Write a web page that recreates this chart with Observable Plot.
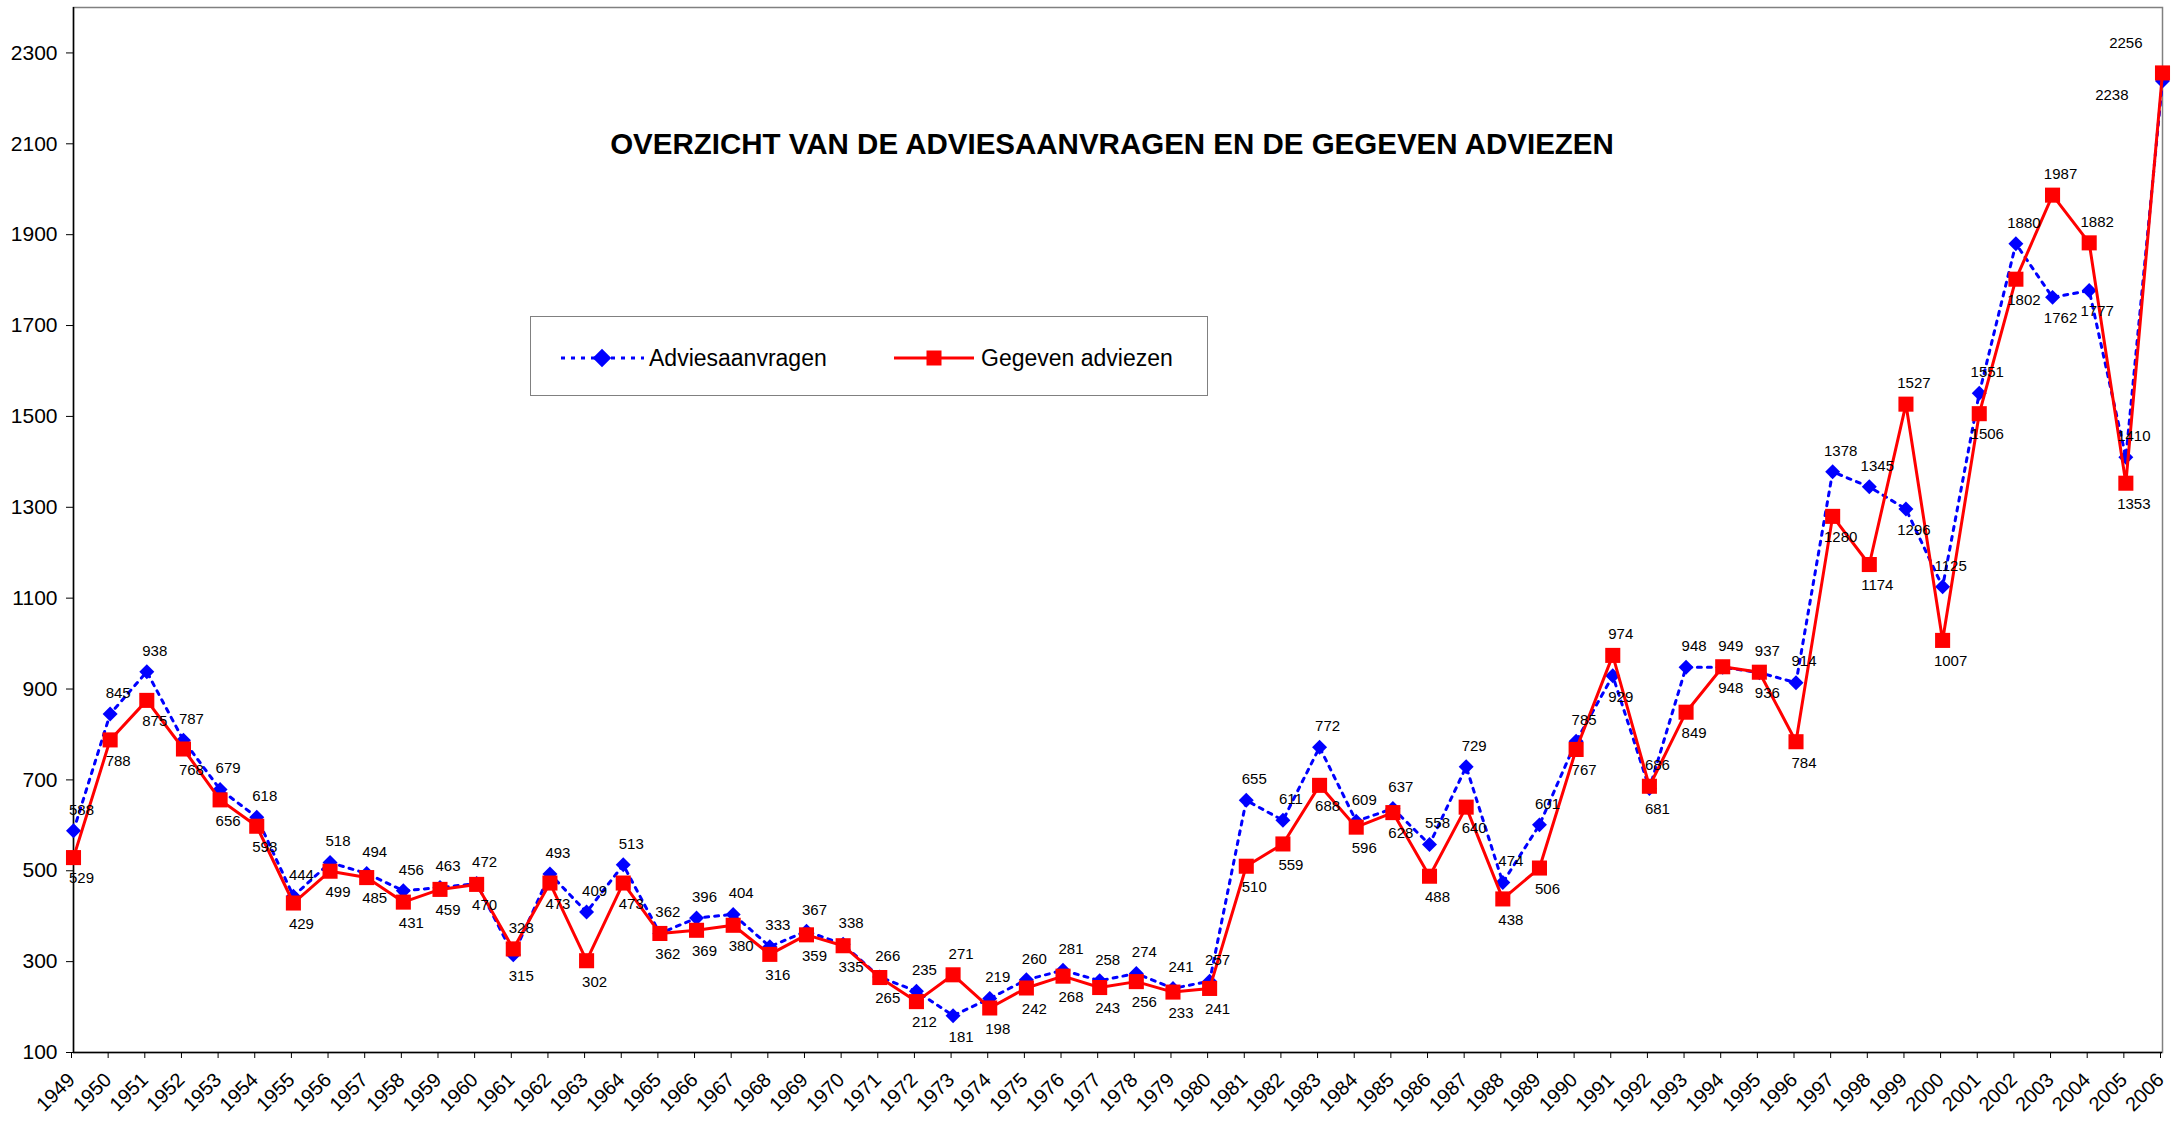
<!DOCTYPE html>
<html>
<head>
<meta charset="utf-8">
<script src="https://cdn.jsdelivr.net/npm/d3@7"></script>
<script src="https://cdn.jsdelivr.net/npm/@observablehq/plot@0.6"></script>
<style>
  body { margin: 0; background: #fff; }
  #wrap { position: relative; width: 2179px; height: 1122px; font-family: "Liberation Sans", Arial, sans-serif; }
  #title { position: absolute; left: 0; width: 2224px; top: 128px; text-align: center; font-weight: bold; font-size: 29.5px; line-height: 32px; color: #000; }
  #legend { position: absolute; left: 530px; top: 316px; width: 678px; height: 80px; box-sizing: border-box; border: 1.5px solid #808080; background: #fff; }
  #legend svg { position: absolute; left: 0; top: 0; }
</style>
</head>
<body>
<div id="wrap">
  <div id="chart"></div>
  <div id="title">OVERZICHT VAN DE ADVIESAANVRAGEN EN DE GEGEVEN ADVIEZEN</div>
  <div id="legend"></div>
</div>
<script>
const years = [1949,1950,1951,1952,1953,1954,1955,1956,1957,1958,1959,1960,1961,1962,1963,1964,1965,1966,1967,1968,1969,1970,1971,1972,1973,1974,1975,1976,1977,1978,1979,1980,1981,1982,1983,1984,1985,1986,1987,1988,1989,1990,1991,1992,1993,1994,1995,1996,1997,1998,1999,2000,2001,2002,2003,2004,2005,2006];
const adviesaanvragen = [588,845,938,787,679,618,444,518,494,456,463,472,315,493,409,513,362,396,404,333,367,338,266,235,181,219,260,281,258,274,241,257,655,611,772,609,637,558,729,474,601,785,929,681,948,948,936,914,1378,1345,1296,1125,1551,1880,1762,1777,1410,2238];
const gegevenAdviezen = [529,788,875,768,656,598,429,499,485,431,459,470,328,473,302,473,362,369,380,316,359,335,265,212,271,198,242,268,243,256,233,241,510,559,688,596,628,488,640,438,506,767,974,686,849,949,937,784,1280,1174,1527,1007,1506,1802,1987,1882,1353,2256];
const yTicks = [100,300,500,700,900,1100,1300,1500,1700,1900,2100,2300];
const seriesNames = ["Adviesaanvragen", "Gegeven adviezen"];

const BLUE = "#0000ff", RED = "#ff0000";
const lastYear = years[years.length - 1];
const data = years.map((y, i) => ({year: y, a: adviesaanvragen[i], g: gegevenAdviezen[i]}));
const inner = data.filter(d => d.year !== lastYear);
const last = data.filter(d => d.year === lastYear);
const blueTop = inner.filter(d => d.a >= d.g);
const blueBottom = inner.filter(d => d.a < d.g);
const redTop = inner.filter(d => d.g > d.a);
const redBottom = inner.filter(d => d.g <= d.a);
const FONT = "'Liberation Sans', Arial, sans-serif";

const chart = Plot.plot({
  width: 2179,
  height: 1122,
  marginLeft: 73,
  marginRight: 17,
  marginTop: 7,
  marginBottom: 70,
  x: {domain: [years[0], lastYear]},
  y: {domain: [100, 2400]},
  style: {fontFamily: FONT, fontSize: "15px", background: "white", color: "black"},
  marks: [
    Plot.frame({stroke: "#808080", strokeWidth: 1.5}),
    Plot.ruleX([years[0]], {stroke: "black", strokeWidth: 1.5}),
    Plot.ruleY([100], {stroke: "black", strokeWidth: 1.5}),
    Plot.axisY({ticks: yTicks, tickSize: 7, tickPadding: 9, fontSize: 21, tickFormat: d => String(d), label: null}),
    Plot.axisX({ticks: years, tickSize: 6, tickPadding: 18, tickRotate: -45, fontSize: 20, dx: -2, tickFormat: d => String(d), label: null}),
    Plot.line(data, {x: "year", y: "a", stroke: BLUE, strokeWidth: 3, strokeDasharray: "4,6"}),
    Plot.dot(data, {x: "year", y: "a", symbol: "diamond2", r: 6.75, fill: BLUE, stroke: "none"}),
    Plot.line(data, {x: "year", y: "g", stroke: RED, strokeWidth: 3}),
    Plot.dot(data, {x: "year", y: "g", symbol: "square", r: 8.5, fill: RED, stroke: "none"}),
    Plot.text(blueTop, {x: "year", y: "a", text: d => String(d.a), dy: -21, dx: 8, fill: "black", fontSize: 15}),
    Plot.text(blueBottom, {x: "year", y: "a", text: d => String(d.a), dy: 21, dx: 8, fill: "black", fontSize: 15}),
    Plot.text(redTop, {x: "year", y: "g", text: d => String(d.g), dy: -21, dx: 8, fill: "black", fontSize: 15}),
    Plot.text(redBottom, {x: "year", y: "g", text: d => String(d.g), dy: 21, dx: 8, fill: "black", fontSize: 15}),
    Plot.text(last, {x: "year", y: "g", text: d => String(d.g), dy: -30, dx: -20, textAnchor: "end", fill: "black", fontSize: 15}),
    Plot.text(last, {x: "year", y: "a", text: d => String(d.a), dy: 14, dx: -34, textAnchor: "end", fill: "black", fontSize: 15})
  ]
});
document.getElementById("chart").appendChild(chart);

// legend
const lg = d3.select("#legend").append("svg").attr("width", 678).attr("height", 80);
const cy = 41;
lg.append("line").attr("x1", 30).attr("x2", 113).attr("y1", cy).attr("y2", cy)
  .attr("stroke", BLUE).attr("stroke-width", 3).attr("stroke-dasharray", "4,6");
lg.append("path").attr("d", d3.symbol(d3.symbolDiamond2, 220)()).attr("transform", `translate(71,${cy})`).attr("fill", BLUE);
lg.append("text").attr("x", 118).attr("y", cy).attr("dy", "0.35em").attr("font-size", 23)
  .attr("font-family", FONT).text(seriesNames[0]);
lg.append("line").attr("x1", 363).attr("x2", 443).attr("y1", cy).attr("y2", cy)
  .attr("stroke", RED).attr("stroke-width", 3);
lg.append("rect").attr("x", 403 - 7.5).attr("y", cy - 7.5).attr("width", 15).attr("height", 15).attr("fill", RED);
lg.append("text").attr("x", 450).attr("y", cy).attr("dy", "0.35em").attr("font-size", 23)
  .attr("font-family", FONT).text(seriesNames[1]);
</script>
</body>
</html>
